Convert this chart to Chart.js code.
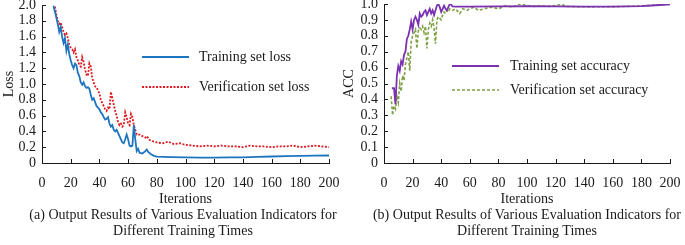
<!DOCTYPE html>
<html>
<head>
<meta charset="utf-8">
<script src="https://cdn.jsdelivr.net/npm/chart.js@4.4.1/dist/chart.umd.min.js"></script>
<style>
  html, body { margin: 0; padding: 0; background: #fff; }
  body { width: 685px; height: 245px; position: relative; overflow: hidden; font-family: "Liberation Serif", "DejaVu Serif", serif; color: #1a1a1a; }
  #c1 { position: absolute; left: 0; top: 0; }
  #c2 { position: absolute; left: 340px; top: 0; }
  .cap { position: absolute; top: 207px; font-size: 14px; line-height: 16px; text-align: center; white-space: nowrap; }
  #capA { left: 0; width: 366px; }
  #capB { left: 342px; width: 370px; }
</style>
</head>
<body>
<canvas id="c1" width="340" height="208"></canvas>
<canvas id="c2" width="345" height="208"></canvas>
<div class="cap" id="capA">(a) Output Results of Various Evaluation Indicators for<br>Different Training Times</div>
<div class="cap" id="capB">(b) Output Results of Various Evaluation Indicators for<br>Different Training Times</div>
<script>
// ---------------- DATA ----------------
const xTicks = [0, 20, 40, 60, 80, 100, 120, 140, 160, 180, 200];
const lossTicks = [0, 0.2, 0.4, 0.6, 0.8, 1.0, 1.2, 1.4, 1.6, 1.8, 2.0];
const accTicks = [0, 0.1, 0.2, 0.3, 0.4, 0.5, 0.6, 0.7, 0.8, 0.9, 1.0];

const trainLossIter = [8,10,11,12,13,14,15,16,17,18,19,20,21,22,23,24,25,26,27,28,29,30,31,32,33,34,35,36,37,38,39,40,41,42,43,44,45,46,47,48,49,50,51,52,53,54,55,56,57,58,59,60,61,62,63,64,65,66,67,68,70,72,73,74,76,78,80,90,100,110,120,130,140,150,160,170,180,190,200];
const trainLoss = [1.99,1.84,1.76,1.66,1.72,1.60,1.52,1.58,1.42,1.50,1.38,1.30,1.24,1.20,1.26,1.24,1.14,1.10,1.02,0.99,1.02,0.97,0.95,0.96,0.94,0.86,0.80,0.82,0.77,0.72,0.70,0.68,0.64,0.62,0.58,0.55,0.56,0.58,0.50,0.46,0.48,0.42,0.40,0.42,0.38,0.34,0.30,0.26,0.25,0.30,0.36,0.30,0.22,0.21,0.22,0.48,0.30,0.15,0.18,0.13,0.12,0.15,0.17,0.14,0.11,0.09,0.08,0.075,0.07,0.067,0.067,0.07,0.072,0.078,0.082,0.086,0.09,0.093,0.095];

const valLossIter = [9,10,11,12,13,14,15,16,17,18,19,20,21,22,23,24,25,26,27,28,29,30,31,32,33,34,35,36,37,38,39,40,41,42,43,44,45,46,47,48,49,50,51,52,53,54,55,56,57,58,59,60,61,62,63,64,65,66,68,70,72,73,75,78,80,84,88,92,96,100,105,110,115,120,125,130,135,140,145,150,155,160,165,170,175,180,185,190,195,200];
const valLoss = [1.98,1.88,1.80,1.76,1.78,1.72,1.66,1.62,1.64,1.58,1.50,1.46,1.44,1.40,1.44,1.34,1.30,1.24,1.22,1.34,1.28,1.18,1.12,1.10,1.26,1.22,1.08,1.02,0.97,0.96,0.92,0.88,0.80,0.76,0.72,0.68,0.66,0.70,0.68,0.90,0.82,0.74,0.66,0.60,0.52,0.48,0.50,0.46,0.48,0.64,0.58,0.50,0.48,0.62,0.58,0.48,0.42,0.36,0.36,0.34,0.32,0.34,0.29,0.27,0.26,0.25,0.27,0.24,0.25,0.23,0.22,0.21,0.22,0.21,0.22,0.21,0.21,0.20,0.22,0.21,0.21,0.20,0.21,0.21,0.22,0.20,0.21,0.22,0.21,0.20];

const trainAccIter = [5.5,7,8,9,10,11,12,13,14,15,16,17,18,19,20,21,22,23,24,25,26,27,28,29,30,31,32,33,34,35,36,37,38,39,40,41,42,43,44,45,46,47,48,50,60,80,100,120,140,160,180,190,200];
const trainAcc = [0.47,0.47,0.37,0.55,0.61,0.58,0.64,0.62,0.68,0.70,0.78,0.80,0.84,0.89,0.84,0.90,0.92,0.90,0.87,0.94,0.92,0.93,0.95,0.96,0.93,0.95,0.97,0.94,0.96,0.93,0.96,0.99,1.00,0.98,0.95,0.97,0.99,0.97,0.96,0.98,1.00,0.995,0.985,0.983,0.984,0.985,0.986,0.985,0.983,0.984,0.987,0.992,0.998];

const valAccIter = [5,6,7,8,9,10,11,12,13,14,15,16,17,18,19,20,21,22,23,24,25,26,27,28,29,30,31,32,33,34,35,36,37,38,39,40,41,42,43,44,45,46,48,50,52,53,55,58,60,63,66,70,75,80,85,90,95,100,105,110,115,120,124,128,135,145,155,165,175,185,195,200];
const valAcc = [0.42,0.30,0.36,0.34,0.42,0.38,0.50,0.45,0.55,0.52,0.62,0.66,0.70,0.58,0.76,0.80,0.82,0.84,0.72,0.83,0.85,0.84,0.86,0.82,0.86,0.72,0.84,0.88,0.86,0.90,0.85,0.75,0.90,0.92,0.91,0.90,0.93,0.95,0.94,0.96,0.95,0.97,0.96,0.97,0.95,0.94,0.97,0.96,0.97,0.98,0.96,0.97,0.98,0.97,0.99,0.98,1.00,0.99,0.985,0.99,0.985,0.99,0.998,0.985,0.983,0.982,0.983,0.984,0.986,0.99,0.995,0.999];

// ---------------- STYLE ----------------
const FONT = "'Liberation Serif', 'Times New Roman', serif";
const INK = '#1a1a1a';
Chart.defaults.font.family = FONT;
Chart.defaults.color = INK;

function pts(xs, ys) { return xs.map((x, i) => ({ x: x, y: ys[i] })); }

// Inward tick marks + in-plot legend
const decor = {
  id: 'decor',
  afterDraw(chart, args, opts) {
    const ctx = chart.ctx;
    const xs = chart.scales.x, ys = chart.scales.y;
    const ca = chart.chartArea;
    ctx.save();
    ctx.strokeStyle = INK;
    ctx.lineWidth = 1;
    ctx.beginPath();
    xs.ticks.forEach(t => {
      const px = Math.round(xs.getPixelForValue(t.value)) + 0.5;
      ctx.moveTo(px, ca.bottom);
      ctx.lineTo(px, ca.bottom - 4);
    });
    ys.ticks.forEach(t => {
      const py = Math.round(ys.getPixelForValue(t.value)) + 0.5;
      ctx.moveTo(ca.left, py);
      ctx.lineTo(ca.left + 4, py);
    });
    ctx.stroke();
    // legend
    const L = opts.legend;
    chart.data.datasets.forEach((ds, i) => {
      const y = L.y[i];
      ctx.beginPath();
      ctx.strokeStyle = ds.borderColor;
      ctx.lineWidth = ds.borderWidth;
      ctx.setLineDash(ds.borderDash || []);
      ctx.moveTo(L.x0, y);
      ctx.lineTo(L.x1, y);
      ctx.stroke();
      ctx.setLineDash([]);
      ctx.fillStyle = INK;
      ctx.font = '14px ' + FONT;
      ctx.textBaseline = 'middle';
      ctx.textAlign = 'left';
      ctx.fillText(ds.label, L.tx, y);
    });
    ctx.restore();
  }
};

function makeChart(id, cfg) {
  return new Chart(document.getElementById(id), {
    type: 'line',
    data: { datasets: cfg.datasets },
    plugins: [decor],
    options: {
      responsive: false,
      animation: false,
      devicePixelRatio: 1,
      layout: { padding: { left: 0, right: cfg.padRight, top: cfg.padTop, bottom: 0 } },
      elements: { point: { radius: 0 }, line: { tension: 0 } },
      plugins: { legend: { display: false }, tooltip: { enabled: false }, decor: { legend: cfg.legend } },
      scales: {
        x: {
          type: 'linear', min: 0, max: 200,
          afterBuildTicks: s => { s.ticks = xTicks.map(v => ({ value: v })); },
          ticks: { font: { size: 14 }, color: INK, padding: 12, maxRotation: 0, autoSkip: false },
          grid: { display: false, drawTicks: false },
          border: { display: true, color: INK, width: 1 },
          title: { display: true, text: 'Iterations', font: { size: 14 }, color: INK, padding: { top: 0, bottom: 0 } },
          afterFit: s => { s.height = 45; s.paddingLeft = 0; s.paddingRight = 0; }
        },
        y: {
          type: 'linear', min: cfg.yTicks[0], max: cfg.yTicks[cfg.yTicks.length - 1],
          afterBuildTicks: s => { s.ticks = cfg.yTicks.map(v => ({ value: v })); },
          ticks: { font: { size: 14 }, color: INK, padding: 6, autoSkip: false, callback: cfg.yFmt },
          grid: { display: false, drawTicks: false },
          border: { display: true, color: INK, width: 1 },
          title: { display: true, text: cfg.yTitle, font: { size: 14 }, color: INK, padding: { top: 1, bottom: 0 } },
          afterFit: s => { s.width = cfg.yWidth; s.paddingTop = 0; s.paddingBottom = 0; }
        }
      }
    }
  });
}

makeChart('c1', {
  yTicks: lossTicks, yTitle: 'Loss', yWidth: 42, padRight: 11, padTop: 5,
  yFmt: v => (v === 0 ? '0' : v.toFixed(1)),
  legend: { x0: 142, x1: 189, tx: 199, y: [57, 87] },
  datasets: [
    { label: 'Training set loss', data: pts(trainLossIter, trainLoss), borderColor: '#1f74c0', borderWidth: 1.8, fill: false },
    { label: 'Verification set loss', data: pts(valLossIter, valLoss), borderColor: '#e0191e', borderWidth: 1.8, borderDash: [2, 1.5], fill: false }
  ]
});

makeChart('c2', {
  yTicks: accTicks, yTitle: 'ACC', yWidth: 44, padRight: 15, padTop: 4,
  yFmt: v => (v === 0 ? '0' : v.toFixed(1)),
  legend: { x0: 112, x1: 159, tx: 170, y: [66, 90] },
  datasets: [
    { label: 'Training set accuracy', data: pts(trainAccIter, trainAcc), borderColor: '#7b31b0', borderWidth: 1.8, fill: false },
    { label: 'Verification set accuracy', data: pts(valAccIter, valAcc), borderColor: '#7fa044', borderWidth: 1.6, borderDash: [3, 2], fill: false }
  ]
});
</script>
</body>
</html>
